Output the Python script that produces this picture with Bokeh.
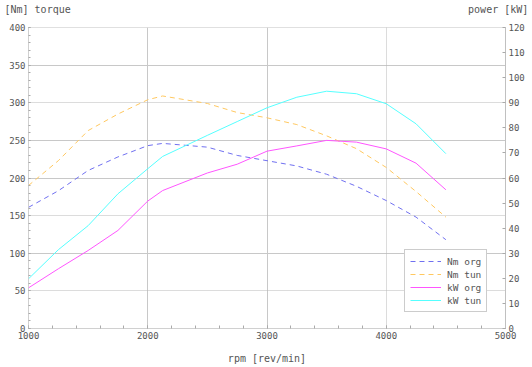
from bokeh.plotting import figure
from bokeh.models import (Range1d, LinearAxis, FixedTicker, Grid,
                          Legend, LegendItem, Title)
from bokeh.embed import file_html
from bokeh.resources import INLINE

rpm = [1000, 1250, 1500, 1750, 2000, 2125, 2500, 2750, 3000, 3250, 3500, 3750, 4000, 4250, 4500]
nm_org = [161, 183, 210, 228, 243, 246, 241, 230, 223, 216, 205, 189, 170, 148, 118]
nm_tun = [190, 223, 263, 285, 304, 309, 299, 287, 280, 271, 256, 239, 214, 182, 148]
kw_org = [16.2, 23.8, 31.1, 39.1, 50.8, 55.0, 62.0, 65.5, 70.7, 72.8, 75.0, 74.3, 71.6, 65.9, 55.3]
kw_tun = [19.8, 31.4, 41.0, 53.7, 63.7, 68.6, 77.0, 82.5, 88.0, 92.2, 94.6, 93.6, 89.6, 81.6, 69.7]

x_ticks = [1000, 2000, 3000, 4000, 5000]
nm_ticks = [0, 50, 100, 150, 200, 250, 300, 350, 400]
kw_ticks = [0, 10, 20, 30, 40, 50, 60, 70, 80, 90, 100, 110, 120]
left_title = "[Nm] torque"
right_title = "power [kW]"

FONT = "DejaVu Sans Mono"
TXT = "#555555"
GRID = "#c8c8c8"

W, H = 532, 367
BL, BR, BT, BB = 28, 27, 27, 39

p = figure(width=W, height=H, output_backend="svg", toolbar_location=None,
           x_range=Range1d(1000, 5000), y_range=Range1d(0, 400),
           min_border_left=BL, min_border_right=BR, min_border_top=BT, min_border_bottom=BB)
p.extra_y_ranges = {"kw": Range1d(0, 120)}
p.outline_line_color = "#c0c0c0"
p.outline_line_dash = "1 1"
p.background_fill_color = "white"
p.border_fill_color = "white"

# header: both axis titles on one line (monospace, padded with no-break spaces)
CHAR_W = 6.02  # advance of DejaVu Sans Mono at 10px
gap = int(round((527 - 4) / CHAR_W)) - len(left_title) - len(right_title)
p.title = Title(text=left_title + "\u00a0" * gap + right_title, align="left",
                offset=4 - BL, standoff=0, text_font=FONT, text_font_size="10px",
                text_font_style="normal", text_color=TXT)
p.title_location = "above"
# thin empty spacer between header line and plot frame
p.add_layout(Title(text="\u00a0", text_font_size="10px", standoff=0), "above")

# grids
p.xgrid.ticker = FixedTicker(ticks=[2000, 3000])
p.xgrid.grid_line_color = GRID
p.ygrid.ticker = FixedTicker(ticks=[100, 200, 250, 350])
p.ygrid.grid_line_color = GRID
p.add_layout(Grid(dimension=0, ticker=FixedTicker(ticks=[4000]),
                  grid_line_color="#b8b8b8", grid_line_dash="1 1"))
p.add_layout(Grid(dimension=1, ticker=FixedTicker(ticks=[50, 150, 300]),
                  grid_line_color="#b8b8b8", grid_line_dash="1 1"))

def style_axis(ax):
    ax.major_label_text_font = FONT
    ax.major_label_text_font_size = "9px"
    ax.major_label_text_color = TXT
    ax.major_label_standoff = 3
    ax.major_tick_out = 0
    ax.minor_tick_out = 0
    ax.major_tick_line_color = "#aaaaaa"
    ax.minor_tick_line_color = "#aaaaaa"
    ax.axis_line_color = "#c0c0c0"

# x axis
xa = p.xaxis[0]
xa.ticker = FixedTicker(ticks=x_ticks, minor_ticks=list(range(1000, 5001, 200)))
style_axis(xa)
xa.major_tick_in = 3
xa.minor_tick_in = 3
xa.axis_line_dash = "1 1"
xa.axis_label = "rpm [rev/min]"
xa.axis_label_text_font = FONT
xa.axis_label_text_font_size = "10px"
xa.axis_label_text_font_style = "normal"
xa.axis_label_text_color = TXT
xa.axis_label_standoff = 11

# left axis
ya = p.yaxis[0]
ya.ticker = FixedTicker(ticks=nm_ticks, minor_ticks=list(range(0, 401, 10)))
style_axis(ya)
ya.major_tick_in = 2
ya.minor_tick_in = 2
ya.axis_line_dash = "1 1"

# right axis
ra = LinearAxis(y_range_name="kw", ticker=FixedTicker(ticks=kw_ticks))
style_axis(ra)
ra.major_tick_in = 3
ra.minor_tick_in = 0
p.add_layout(ra, "right")

r1 = p.line(rpm, nm_org, line_color="#7070f0", line_width=1, line_dash="5 4")
r2 = p.line(rpm, nm_tun, line_color="#ffc860", line_width=1, line_dash="5 4")
r3 = p.line(rpm, kw_org, line_color="#ff55ff", line_width=1, y_range_name="kw")
r4 = p.line(rpm, kw_tun, line_color="#55ffff", line_width=1, y_range_name="kw")

legend = Legend(items=[LegendItem(label="Nm org", renderers=[r1]),
                       LegendItem(label="Nm tun", renderers=[r2]),
                       LegendItem(label="kW org", renderers=[r3]),
                       LegendItem(label="kW tun", renderers=[r4])],
                location=(376, 16), orientation="vertical",
                label_text_font=FONT, label_text_font_size="9.5px", label_text_color=TXT,
                glyph_width=31, glyph_height=12, label_height=12, label_standoff=6,
                spacing=1, padding=5, margin=0,
                border_line_color="#999999", border_line_width=1,
                background_fill_color="white", background_fill_alpha=1.0)
p.add_layout(legend)

open("out.html", "w").write(file_html(p, INLINE))
